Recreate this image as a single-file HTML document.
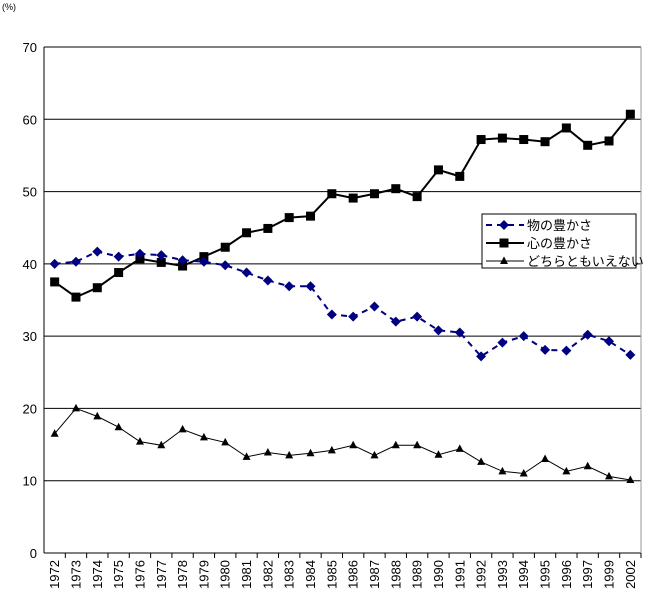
<!DOCTYPE html>
<html><head><meta charset="utf-8"><style>
body{margin:0;background:#fff;}
svg text{font-family:"Liberation Sans","Noto Sans CJK JP",sans-serif;}
</style></head><body>
<svg id="chart" width="648" height="595" xmlns="http://www.w3.org/2000/svg"></svg>
<script>
const categories=["1972","1973","1974","1975","1976","1977","1978","1979","1980","1981","1982","1983","1984","1985","1986","1987","1988","1989","1990","1991","1992","1993","1994","1995","1996","1997","1999","2002"];
const monoValues=[40.0,40.3,41.7,41.0,41.4,41.2,40.5,40.3,39.8,38.8,37.7,36.9,36.9,33.0,32.7,34.1,32.0,32.7,30.8,30.5,27.2,29.1,30.0,28.1,28.0,30.2,29.3,27.4];
const kokoroValues=[37.5,35.4,36.7,38.8,40.7,40.2,39.7,41.0,42.3,44.3,44.9,46.4,46.6,49.7,49.1,49.7,50.4,49.3,53.0,52.1,57.2,57.4,57.2,56.9,58.8,56.4,57.0,60.7];
const neitherValues=[16.5,20.0,18.9,17.4,15.4,14.9,17.1,16.0,15.3,13.3,13.9,13.5,13.8,14.2,14.9,13.5,14.9,14.9,13.6,14.4,12.6,11.3,11.0,13.0,11.3,12.0,10.6,10.1];
const yTicks=[0,10,20,30,40,50,60,70];
const NS="http://www.w3.org/2000/svg";
const svg=document.getElementById('chart');
const L=44,R=641,T=47,B=553,yMax=70;
const band=(R-L)/categories.length;
const x=i=>L+band*(i+0.5);
const y=v=>B-(v/yMax)*(B-T);
function mk(tag,attrs,parent){const e=document.createElementNS(NS,tag);for(const k in attrs)e.setAttribute(k,attrs[k]);(parent||svg).appendChild(e);return e;}
let g;
yTicks.forEach(t=>{
  if(t>0){g=mk('line',{x1:L,x2:R,y1:y(t),y2:y(t),stroke:'#000','stroke-width':1});
  
  }
  g=mk('text',{x:37,y:y(t)+5,'text-anchor':'end','font-size':13});
  g.textContent=t;
  
  
});
g=mk('text',{x:2,y:10,'font-size':9});g.textContent='(%)';


g=mk('line',{x1:L,x2:L,y1:T,y2:B,stroke:'#000'});


g=mk('line',{x1:L,x2:R,y1:B,y2:B,stroke:'#000'});


g=mk('line',{x1:R,x2:R,y1:T,y2:B,stroke:'#999'});


categories.forEach((c,i)=>{
  g=mk('line',{x1:L+band*(i+1),x2:L+band*(i+1),y1:B,y2:B+5,stroke:'#000'});
  
  
  g=mk('text',{x:0,y:0,'text-anchor':'end','font-size':13,transform:`translate(${x(i)+4.5},560) rotate(-90)`});
  g.textContent=c;
  
  
});
function series(vals,name,color,width,dash,marker){
  const pts=vals.map((v,i)=>x(i)+','+y(v)).join(' ');
  g=mk('polyline',{points:pts,fill:'none',stroke:color,'stroke-width':width,'stroke-dasharray':dash||'none'});
  
  
  vals.forEach((v,i)=>{drawMarker(marker,x(i),y(v),color,name);});
}
function drawMarker(m,cx,cy,color,name){
  let e;
  if(m==='diamond')e=mk('polygon',{points:`${cx},${cy-5} ${cx+5},${cy} ${cx},${cy+5} ${cx-5},${cy}`,fill:color});
  else if(m==='square')e=mk('rect',{x:cx-4.5,y:cy-4.5,width:9,height:9,fill:color});
  else e=mk('polygon',{points:`${cx},${cy-4.5} ${cx+4},${cy+3} ${cx-4},${cy+3}`,fill:color});
  
  
}
series(neitherValues,'neither','#000',1,null,'tri');
series(kokoroValues,'kokoro','#000',2,null,'square');
series(monoValues,'mono','#000080',2,'6,5','diamond');
const lg=mk('g',{});


mk('rect',{x:482,y:214,width:154,height:54,fill:'#fff',stroke:'#000'},lg);
const items=[['物の豊かさ','#000080',2,'6,5','diamond','mono'],['心の豊かさ','#000',2,null,'square','kokoro'],['どちらともいえない','#000',1,null,'tri','neither']];
items.forEach((it,k)=>{
  const cy=225+k*18;
  const ln=mk('line',{x1:486,x2:524,y1:cy,y2:cy,stroke:it[1],'stroke-width':it[2],'stroke-dasharray':it[3]||'none'},lg);
  
  
  drawMarker(it[4],504,cy,it[1],'legend-'+it[5]);
  const t=mk('text',{x:527,y:cy+5,'font-size':13},lg);
  t.textContent=it[0];
  
  
});
</script>
</body></html>
